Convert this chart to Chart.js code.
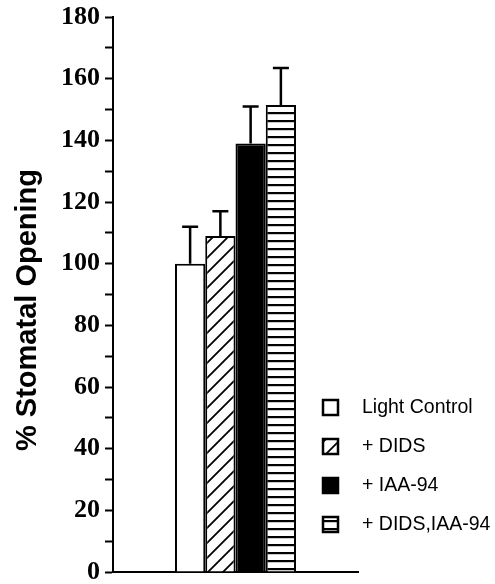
<!DOCTYPE html>
<html>
<head>
<meta charset="utf-8">
<title>% Stomatal Opening</title>
<script src="https://cdn.jsdelivr.net/npm/chart.js@4.4.1/dist/chart.umd.min.js"></script>
<style>
  html, body { margin: 0; padding: 0; background: #fff; }
  #chart { display: block; }
</style>
</head>
<body>
<canvas id="chart" width="495" height="584"></canvas>
<script>
// chart data
const categories = [''];
const seriesLabels = ['Light Control', '+ DIDS', '+ IAA-94', '+ DIDS,IAA-94'];
const seriesValues = [100, 109, 139, 151.5];
const seriesErrors = [12, 8, 12, 12];
const yTickLabels = ['0', '20', '40', '60', '80', '100', '120', '140', '160', '180'];
const yTitle = '% Stomatal Opening';

// fill patterns for the bars
function makePattern(kind) {
    const c = document.createElement('canvas');
    const g = c.getContext('2d');
    if (kind === 'white') return '#ffffff';
    if (kind === 'black') return '#000000';
    if (kind === 'diag') {
        c.width = 15; c.height = 15;
        g.fillStyle = '#fff';
        g.fillRect(0, 0, 15, 15);
        g.strokeStyle = '#000';
        g.lineWidth = 1.8;
        g.beginPath();
        g.moveTo(-2, 17); g.lineTo(17, -2);
        g.moveTo(-2, 2); g.lineTo(2, -2);
        g.moveTo(13, 17); g.lineTo(17, 13);
        g.stroke();
    } else {
        c.width = 8; c.height = 8;
        g.fillStyle = '#fff';
        g.fillRect(0, 0, 8, 8);
        g.fillStyle = '#000';
        g.fillRect(0, 0, 8, 2.2);
    }
    return g.createPattern(c, 'repeat');
}
const patterns = ['white', 'diag', 'black', 'stripes'].map(makePattern);

// upper error bars with caps
const errorBars = {
    id: 'errorBars',
    afterDatasetsDraw(chart) {
        const ctx = chart.ctx;
        const y = chart.scales.y;
        ctx.save();
        ctx.strokeStyle = '#000';
        ctx.lineWidth = 2.5;
        chart.data.datasets.forEach((ds, i) => {
            const bar = chart.getDatasetMeta(i).data[0];
            const top = y.getPixelForValue(ds.data[0] + seriesErrors[i]);
            ctx.beginPath();
            ctx.moveTo(bar.x, bar.y);
            ctx.lineTo(bar.x, top);
            ctx.moveTo(bar.x - 8, top);
            ctx.lineTo(bar.x + 8, top);
            ctx.stroke();
        });
        ctx.restore();
    }
};

// rotated axis title and legend box
const decorations = {
    id: 'decorations',
    afterDraw(chart) {
        const ctx = chart.ctx;
        ctx.save();
        ctx.translate(28, 310);
        ctx.rotate(-Math.PI / 2);
        ctx.font = 'bold 29px "Liberation Sans", Arial, sans-serif';
        ctx.fillStyle = '#000';
        ctx.textAlign = 'center';
        ctx.textBaseline = 'middle';
        ctx.fillText(yTitle, 0, 0);
        ctx.restore();

        ctx.save();
        ctx.font = '19.5px "Liberation Sans", Arial, sans-serif';
        ctx.textBaseline = 'middle';
        chart.data.datasets.forEach((ds, i) => {
            const cy = 407 + i * 39;
            ctx.fillStyle = ds.backgroundColor;
            ctx.fillRect(323, cy - 7, 15, 15);
            ctx.strokeStyle = '#000';
            ctx.lineWidth = 2.5;
            ctx.strokeRect(323, cy - 7, 15, 15);
            ctx.fillStyle = '#000';
            ctx.fillText(ds.label, 362, cy + 1);
        });
        ctx.restore();
    }
};

new Chart(document.getElementById('chart'), {
    type: 'bar',
    data: {
        labels: categories,
        datasets: seriesLabels.map((label, i) => ({
            label: label,
            data: [seriesValues[i]],
            backgroundColor: patterns[i],
            borderColor: '#000',
            borderWidth: 2,
            borderSkipped: 'bottom'
        }))
    },
    options: {
        responsive: false,
        animation: false,
        devicePixelRatio: 1,
        layout: { padding: { left: 0, top: 17, right: 137, bottom: 12 } },
        categoryPercentage: 0.494,
        barPercentage: 1.0,
        plugins: {
            legend: { display: false },
            tooltip: { enabled: false }
        },
        scales: {
            x: {
                grid: { display: false },
                ticks: { display: false },
                border: { display: true, color: '#000', width: 2 },
                afterFit(scale) { scale.height = 0; }
            },
            y: {
                min: 0,
                max: 180,
                ticks: {
                    stepSize: 10,
                    autoSkip: false,
                    color: '#000',
                    padding: 5,
                    font: { family: '"Liberation Serif", "Times New Roman", serif', size: 26, weight: 'bold', lineHeight: 1 },
                    callback: v => yTickLabels.includes(String(v)) ? String(v) : ''
                },
                grid: {
                    drawOnChartArea: false,
                    drawTicks: true,
                    tickLength: 8,
                    tickColor: '#000',
                    tickWidth: 2
                },
                border: { display: true, color: '#000', width: 2 },
                afterFit(scale) {
                    scale.width = 113;
                    scale.paddingTop = 0;
                    scale.paddingBottom = 0;
                }
            }
        }
    },
    plugins: [errorBars, decorations]
});
</script>
</body>
</html>
